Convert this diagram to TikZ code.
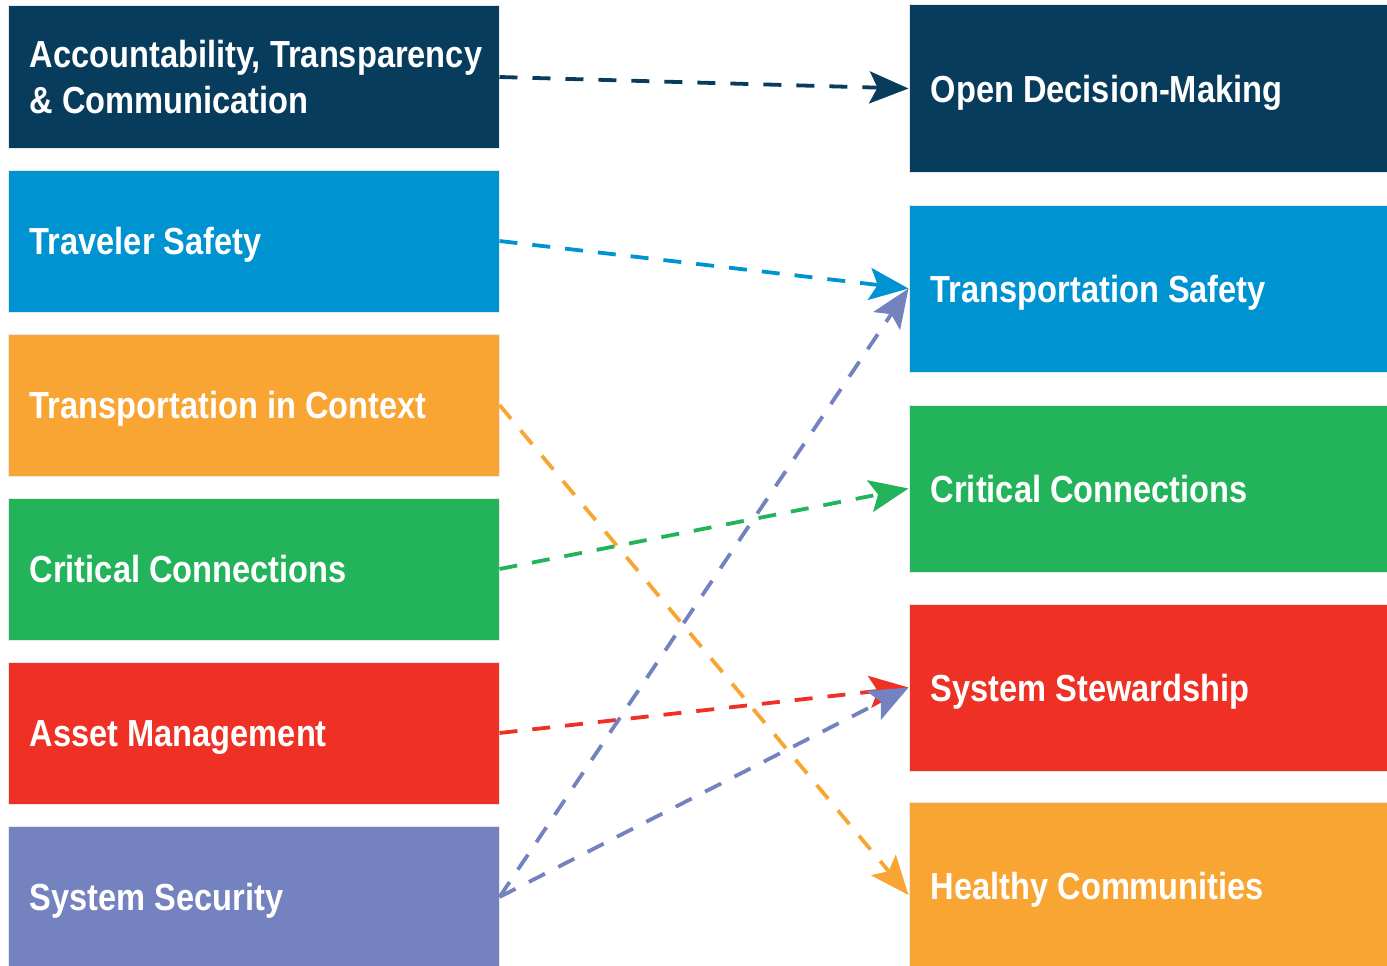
\documentclass[tikz,border=0pt]{standalone}
\usepackage{fontspec}
\newfontfamily\labelfont[FakeStretch=0.865]{Liberation Sans Bold}
\usetikzlibrary{arrows.meta}

\definecolor{navy}{RGB}{8,60,93}
\definecolor{skyblue}{RGB}{0,147,209}
\definecolor{amber}{RGB}{248,165,52}
\definecolor{leaf}{RGB}{34,179,91}
\definecolor{signal}{RGB}{238,49,36}
\definecolor{periwinkle}{RGB}{116,130,192}

\begin{document}
\begin{tikzpicture}[x=1pt,y=-1pt,
  box/.style={rectangle, inner sep=0pt, minimum width=491pt, minimum height=142pt,
    draw=black!9, line width=1pt},
  rbox/.style={box, minimum width=478pt, minimum height=167pt},
  caption/.style={anchor=west, text=white, inner sep=0pt, align=left,
    font=\labelfont\fontsize{37.7}{46}\selectfont},
  oneline/.style={caption, text height=27.5pt, text depth=0pt},
  link/.style={line width=3.8pt, dash pattern=on 18pt off 15pt,
    -{Stealth[length=39pt,width=32pt,inset=8pt]}},
]
\useasboundingbox (0,0) rectangle (1387,966);

% left column: goals
\node[box, fill=navy]       (l1) at (253.5,77)  {};
\node[box, fill=skyblue]    (l2) at (253.5,241) {};
\node[box, fill=amber]      (l3) at (253.5,405) {};
\node[box, fill=leaf]       (l4) at (253.5,569) {};
\node[box, fill=signal]     (l5) at (253.5,733) {};
\node[box, fill=periwinkle] (l6) at (253.5,897) {};

\node[caption] (lt1) at ([xshift=22pt]l1.west) {Accountability, Transparency\\\& Communication};
\node[oneline] (lt2) at ([xshift=22pt]l2.west) {Traveler Safety};
\node[oneline] (lt3) at ([xshift=22pt]l3.west) {Transportation in Context};
\node[oneline] (lt4) at ([xshift=22pt]l4.west) {Critical Connections};
\node[oneline] (lt5) at ([xshift=22pt]l5.west) {Asset Management};
\node[oneline] (lt6) at ([xshift=22pt]l6.west) {System Security};

% right column: outcomes
\node[rbox, fill=navy]    (r1) at (1148,88.5)  {};
\node[rbox, fill=skyblue] (r2) at (1148,288.5) {};
\node[rbox, fill=leaf]    (r3) at (1148,488.5) {};
\node[rbox, fill=signal]  (r4) at (1148,687.5) {};
\node[rbox, fill=amber]   (r5) at (1148,886)   {};

\node[oneline] (rt1) at ([xshift=22pt]r1.west) {Open Decision-Making};
\node[oneline] (rt2) at ([xshift=22pt]r2.west) {Transportation Safety};
\node[oneline] (rt3) at ([xshift=22pt]r3.west) {Critical Connections};
\node[oneline] (rt4) at ([xshift=22pt]r4.west) {System Stewardship};
\node[oneline] (rt5) at ([xshift=22pt]r5.west) {Healthy Communities};

% links between the columns
\draw[link, navy]       (l1.east) -- (r1.west);
\draw[link, skyblue]    (l2.east) -- (r2.west);
\draw[link, amber]      (l3.east) -- ([yshift=-9pt]r5.west);
\draw[link, leaf]       (l4.east) -- (r3.west);
\draw[link, signal]     (l5.east) -- (r4.west);
\draw[link, periwinkle] (l6.east) -- (r2.west);
\draw[link, periwinkle] (l6.east) -- (r4.west);
\end{tikzpicture}
\end{document}
